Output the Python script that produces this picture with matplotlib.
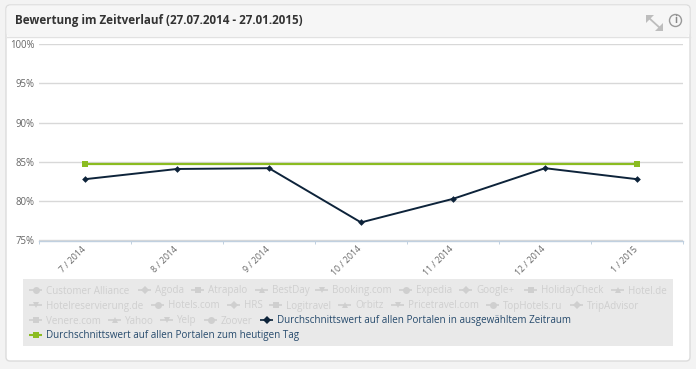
import matplotlib
matplotlib.use('Agg')
import matplotlib.pyplot as plt
from matplotlib.patches import Circle, FancyBboxPatch, Polygon, Rectangle
from matplotlib.transforms import ScaledTranslation

plt.rcParams['font.family'] = ['Open Sans', 'DejaVu Sans']

months = ['7 / 2014', '8 / 2014', '9 / 2014', '10 / 2014', '11 / 2014', '12 / 2014', '1 / 2015']
selected_period = [82.8, 84.1, 84.2, 77.3, 80.3, 84.2, 82.8]
today = [84.7, 84.7, 84.7, 84.7, 84.7, 84.7, 84.7]
y_ticks = [75, 80, 85, 90, 95, 100]

title = 'Bewertung im Zeitverlauf (27.07.2014 - 27.01.2015)'
legend_rows = [
    ['Customer Alliance', 'Agoda', 'Atrapalo', 'BestDay', 'Booking.com', 'Expedia', 'Google+', 'HolidayCheck', 'Hotel.de'],
    ['Hotelreservierung.de', 'Hotels.com', 'HRS', 'Logitravel', 'Orbitz', 'Pricetravel.com', 'TopHotels.ru', 'TripAdvisor'],
    ['Venere.com', 'Yahoo', 'Yelp', 'Zoover', 'Durchschnittswert auf allen Portalen in ausgewähltem Zeitraum'],
    ['Durchschnittswert auf allen Portalen zum heutigen Tag'],
]

# legend layout in pixels, text start per entry
legend_text_x = [
    [46, 155, 208, 272, 332, 416, 476, 541, 628],
    [46, 168, 244, 286, 355, 408, 503, 587],
    [46, 125, 177, 221, 277],
    [46],
]
legend_y = [290, 305, 320, 334.5]
marker_cycle = ['o', 'D', 's', '^', 'v']
marker_sizes = {'o': 5, 'D': 3.6, 's': 4.6, '^': 5, 'v': 5}

W, H = 696, 369
NAVY = '#0d233a'
GREEN = '#8bbc21'
GREY = '#cfcfcf'

fig = plt.figure(figsize=(W / 100, H / 100), dpi=100, facecolor='#f3f3f3')

# background layer in pixel coordinates
bg = fig.add_axes([0, 0, 1, 1])
bg.set_xlim(0, W)
bg.set_ylim(H, 0)
bg.axis('off')

bg.add_patch(FancyBboxPatch((6, 5), 684, 356, boxstyle='round,pad=0,rounding_size=4',
                            fc='white', ec='#dcdcdc', lw=1))
bg.add_patch(FancyBboxPatch((6.5, 5.5), 683, 31, boxstyle='round,pad=0,rounding_size=4',
                            fc='#f6f6f6', ec='none'))
bg.plot([6.5, 689.5], [36.5, 36.5], color='#e2e2e2', lw=1)
bg.text(15, 20.5, title, fontsize=8.35, fontweight='bold', color='#333333', va='center', ha='left')

# expand icon
bg.add_patch(Polygon([(646, 15), (654, 15), (646, 23)], fc='#bdbdbd', ec='none'))
bg.add_patch(Polygon([(663, 31), (655, 31), (663, 23)], fc='#bdbdbd', ec='none'))
bg.plot([649, 660], [18, 28], color='#bdbdbd', lw=1.3)
# info icon
bg.add_patch(Circle((675.5, 20.5), 6, fc='none', ec='#999999', lw=1))
bg.text(675.5, 20.8, 'i', fontsize=7, fontweight='bold', color='#888888', ha='center', va='center')

# legend box
bg.add_patch(Rectangle((22.5, 279), 650.5, 67, fc='#e9e9e9', ec='none'))
entry = 0
for names, xs, y in zip(legend_rows, legend_text_x, legend_y):
    for name, x in zip(names, xs):
        marker = marker_cycle[entry % 5]
        ms = marker_sizes[marker]
        if name.startswith('Durchschnittswert'):
            color = GREEN if 'heutigen' in name else NAVY
            text_color = '#274b6d'
            lw = 1.5 if color == GREEN else 1.2
        else:
            color, text_color = GREY, GREY
            lw = 1.2
        bg.plot([x - 17, x - 4], [y, y], color=color, lw=lw, solid_capstyle='butt')
        bg.plot([x - 10.5], [y], marker=marker, color=color, ms=ms, mew=0)
        bg.text(x, y + 3.5, name, fontsize=7.15, color=text_color, va='baseline', ha='left')
        entry += 1

# chart
left, right, top, bottom = 39, 683, 44, 240.5
ax = fig.add_axes([left / W, 1 - bottom / H, (right - left) / W, (bottom - top) / H])
ax.patch.set_alpha(0)
pos = range(len(months))
ax.plot(pos, selected_period, color=NAVY, lw=1.4, marker='D', ms=3.4, mew=0, zorder=3)
ax.plot(pos, today, color=GREEN, lw=1.6, marker='s', ms=4.6, mew=0, markevery=[0, len(months) - 1], zorder=4)

ax.set_xlim(-0.5, len(months) - 0.5)
ax.set_ylim(75, 100)
ax.set_yticks(y_ticks)
ax.set_yticklabels([f'{v}%' for v in y_ticks], fontsize=6.9, color='#666666')
ax.tick_params(axis='y', length=0, pad=3.5)
ax.grid(axis='y', color='#d8d8d8', lw=1)
ax.set_axisbelow(True)

ax.set_xticks(pos)
ax.set_xticklabels(months, fontsize=6.3, color='#666666', rotation=45, ha='right', rotation_mode='anchor')
ax.set_xticks([p - 0.5 for p in range(len(months) + 1)], minor=True)
ax.tick_params(axis='x', which='major', length=0, pad=3)
ax.tick_params(axis='x', which='minor', length=2.5, width=0.7, color='#c0d0e0')
# labels sit a little left of the band centre
shift = ScaledTranslation(-4 / 100, 0, fig.dpi_scale_trans)
for label in ax.get_xticklabels():
    label.set_transform(label.get_transform() + shift)

for side in ['top', 'right', 'left']:
    ax.spines[side].set_visible(False)
ax.spines['bottom'].set_color('#c0d0e0')
ax.spines['bottom'].set_linewidth(1)

fig.savefig('out.png', dpi=100, facecolor=fig.get_facecolor())
